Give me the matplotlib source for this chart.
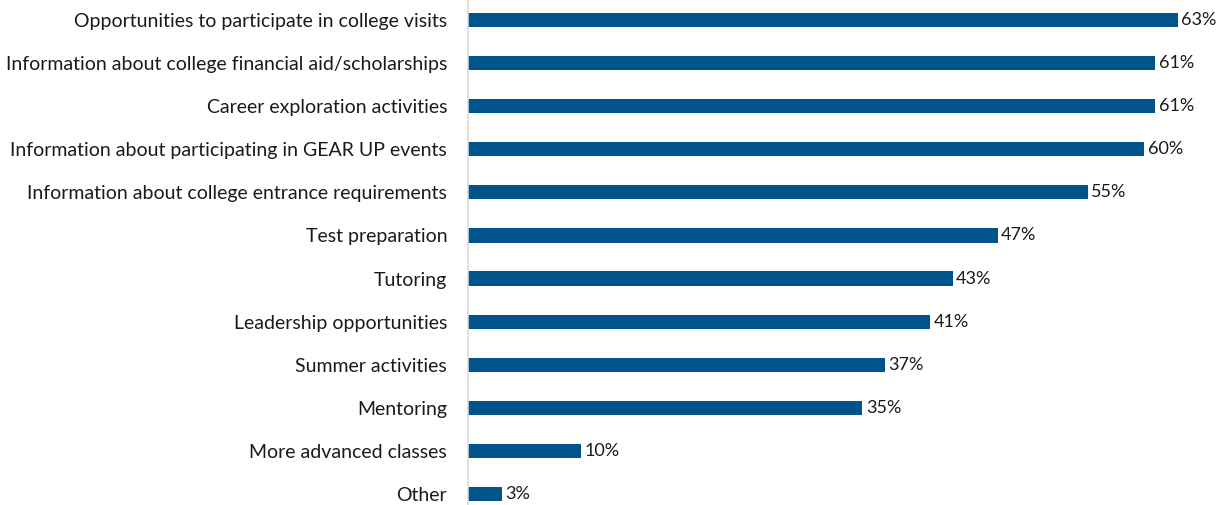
import matplotlib.pyplot as plt

categories = [
    "Opportunities to participate in college visits",
    "Information about college financial aid/scholarships",
    "Career exploration activities",
    "Information about participating in GEAR UP events",
    "Information about college entrance requirements",
    "Test preparation",
    "Tutoring",
    "Leadership opportunities",
    "Summer activities",
    "Mentoring",
    "More advanced classes",
    "Other",
]
values = [63, 61, 61, 60, 55, 47, 43, 41, 37, 35, 10, 3]

plt.rcParams['font.family'] = ['Lato', 'DejaVu Sans']

W, H = 1223, 505
fig = plt.figure(figsize=(W / 100, H / 100), dpi=100)

# place axes in pixel terms: x=0 at 468px, 63% at 1178px; bar 0 at y=20px, bar 11 at y=494px
px_per_pct = (1178 - 468) / 63
xmax = 70
step = (494 - 20) / 11
pad = 0.45
left = 468 / W
width = xmax * px_per_pct / W
top_px = 20 - pad * step
bot_px = 494 + pad * step
ax = fig.add_axes([left, (H - bot_px) / H, width, (bot_px - top_px) / H])

y = range(len(categories))
ax.barh(y, values, height=0.33, color='#00548A')
ax.set_xlim(0, xmax)
ax.set_ylim(len(categories) - 1 + pad, -pad)

for i, v in enumerate(values):
    ax.text(v + 0.3, i, f"{v}%", va='center', ha='left', fontsize=13, color='#1a1a1a')

ax.set_yticks(list(y))
ax.set_yticklabels(categories, fontsize=14, color='#1a1a1a')
ax.tick_params(axis='y', length=0, pad=15)
ax.set_xticks([])
for s in ['top', 'right', 'bottom']:
    ax.spines[s].set_visible(False)
ax.spines['left'].set_color('#d9d9d9')
ax.spines['left'].set_linewidth(1.2)

fig.savefig('out.png', dpi=100)
